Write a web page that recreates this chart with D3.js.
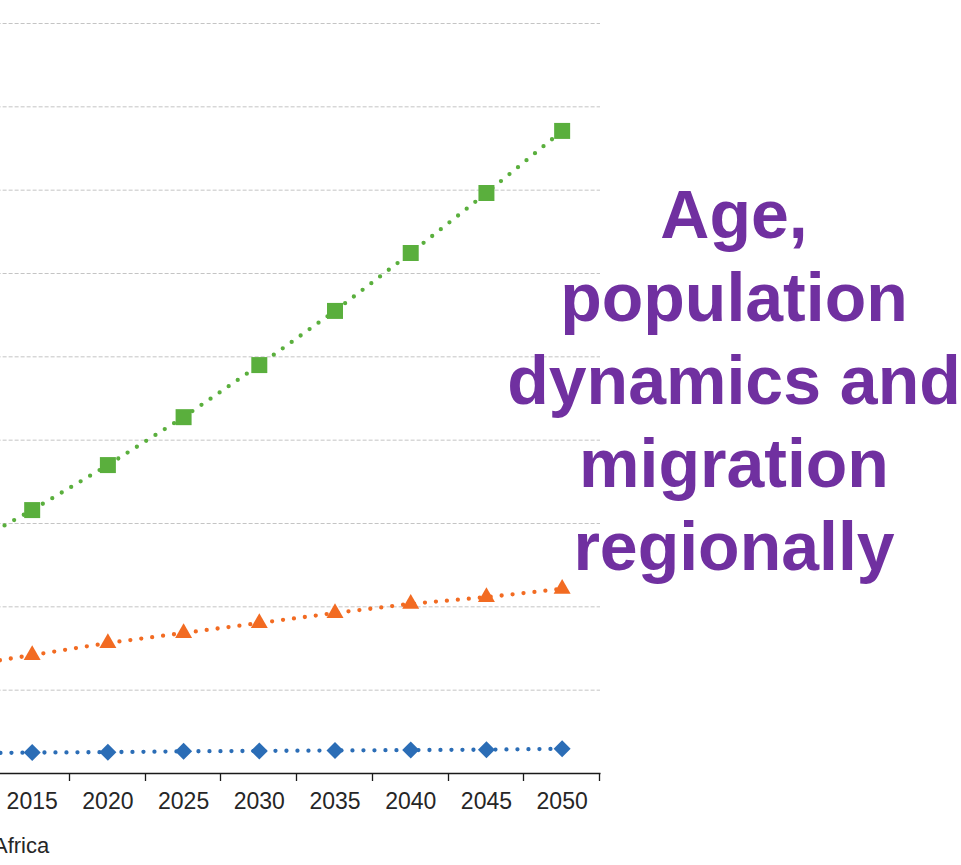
<!DOCTYPE html>
<html>
<head>
<meta charset="utf-8">
<script src="https://cdn.jsdelivr.net/npm/d3@7"></script>
<style>
  html, body { margin: 0; padding: 0; background: #fff; overflow: hidden; }
  svg { display: block; }
</style>
</head>
<body>
<svg id="chart" width="961" height="865"></svg>
<script>
// Years on the category axis
const years = [2010, 2015, 2020, 2025, 2030, 2035, 2040, 2045, 2050];

// Series values (same order as years)
const greenValues  = [530, 631, 739, 854, 979, 1109, 1248, 1392, 1541];
const orangeValues = [254, 283, 312, 336, 360, 384, 406, 422, 442];
const blueValues   = [47, 49, 50, 52, 53, 54, 55, 56, 58];

// Value axis ticks
const yTicks = [0, 200, 400, 600, 800, 1000, 1200, 1400, 1600, 1800];

// Year labels shown under the axis
const labelledYears = [2015, 2020, 2025, 2030, 2035, 2040, 2045, 2050];

const legendLabel = "Africa";
const titleLines = ["Age,", "population", "dynamics and", "migration", "regionally"];

const svg = d3.select("#chart");

const plotRight = 600;
const bandW = 75.71;
const x = d3.scaleBand()
  .domain(years)
  .range([plotRight - bandW * years.length, plotRight])
  .padding(0);

const y = d3.scaleLinear()
  .domain([0, 1800])
  .range([773, 23]);

const left = x.range()[0];

// Dashed horizontal gridlines
svg.append("g")
  .selectAll("line")
  .data(yTicks.filter(t => t > 0))
  .join("line")
  .attr("x1", left)
  .attr("x2", plotRight)
  .attr("y1", d => y(d) + 0.5)
  .attr("y2", d => y(d) + 0.5)
  .attr("stroke", "#c4c4c4")
  .attr("stroke-width", 1)
  .attr("stroke-dasharray", "4 2");

// Category axis: labels centred in each band
const xAxis = svg.append("g")
  .attr("transform", `translate(0,${y(0)})`)
  .call(d3.axisBottom(x).tickValues(labelledYears).tickSize(0).tickPadding(20));
xAxis.select(".domain").remove();
xAxis.selectAll("text")
  .attr("font-family", "Liberation Sans, Arial, sans-serif")
  .attr("font-size", 23)
  .attr("fill", "#262626");

// Axis line and tick marks on band boundaries
const axisG = svg.append("g");
axisG.append("line")
  .attr("x1", left).attr("x2", plotRight + 0.5)
  .attr("y1", y(0) + 0.5).attr("y2", y(0) + 0.5)
  .attr("stroke", "#1a1a1a").attr("stroke-width", 1.3);
const boundaries = years.map(d => x(d)).concat([plotRight]);
axisG.selectAll("line.tick")
  .data(boundaries)
  .join("line")
  .attr("class", "tick")
  .attr("x1", d => Math.round(d) - 0.5).attr("x2", d => Math.round(d) - 0.5)
  .attr("y1", y(0)).attr("y2", y(0) + 8)
  .attr("stroke", "#1a1a1a").attr("stroke-width", 1.3);

const cx = d => x(d) + x.bandwidth() / 2;

const series = [
  { values: blueValues,   color: "#2b6db6", symbol: d3.symbolSquare,   size: 145, rotate: 45 },
  { values: orangeValues, color: "#f26b22", symbol: d3.symbolTriangle, size: 125, rotate: 0 },
  { values: greenValues,  color: "#5aaf3d", symbol: d3.symbolSquare,   size: 256, rotate: 0 }
];

const line = d3.line()
  .x((d, i) => cx(years[i]))
  .y(d => y(d));

series.forEach(s => {
  const g = svg.append("g");
  g.append("path")
    .datum(s.values)
    .attr("d", line)
    .attr("fill", "none")
    .attr("stroke", s.color)
    .attr("stroke-width", 4.3)
    .attr("stroke-linecap", "round")
    .attr("stroke-dasharray", "0 11");
  g.selectAll("path.marker")
    .data(s.values)
    .join("path")
    .attr("class", "marker")
    .attr("d", d3.symbol(s.symbol, s.size))
    .attr("transform", (d, i) => `translate(${cx(years[i])},${y(d)}) rotate(${s.rotate})`)
    .attr("fill", s.color);
});

// Legend label
svg.append("text")
  .attr("x", -7)
  .attr("y", 853)
  .attr("font-family", "Liberation Sans, Arial, sans-serif")
  .attr("font-size", 22)
  .attr("fill", "#262626")
  .text(legendLabel);

// Title block
svg.append("g")
  .selectAll("text")
  .data(titleLines)
  .join("text")
  .attr("x", 734)
  .attr("y", (d, i) => 238 + i * 83)
  .attr("text-anchor", "middle")
  .attr("font-family", "Liberation Sans, Arial, sans-serif")
  .attr("font-weight", "bold")
  .attr("font-size", 68)
  .attr("fill", "#7030a0")
  .text(d => d);
</script>
</body>
</html>
